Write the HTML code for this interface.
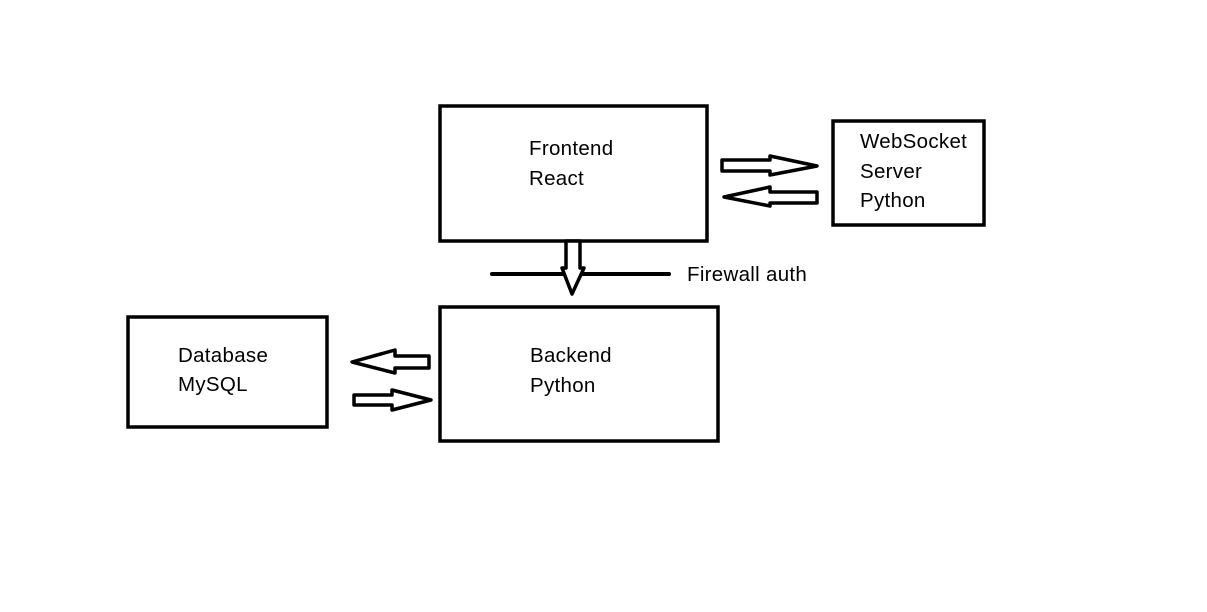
<!DOCTYPE html>
<html><head><style>
html,body{margin:0;padding:0;background:#fff;}
svg{display:block}
text{font-family:"Liberation Sans",sans-serif;font-size:20.5px;fill:#000;letter-spacing:0.3px}
</style></head><body>
<svg width="1207" height="612" viewBox="0 0 1207 612">
<g fill="none" stroke="#000" stroke-width="3.5">
<rect x="440" y="106" width="267" height="135"/>
<rect x="833" y="121" width="151" height="104"/>
<rect x="440" y="307" width="278" height="134"/>
<rect x="128" y="317" width="199" height="110"/>
</g>
<g fill="#fff" stroke="#000" stroke-width="3.5" stroke-linejoin="round">
<polygon points="722,160 770,160 770,156 817,166 770,175 770,171 722,171"/>
<polygon points="817,192 770,192 770,187 724,197 770,206 770,203 817,203"/>
<polygon points="429,356 395,356 395,350 352,362 395,373 395,368 429,368"/>
<polygon points="354,395 392,395 392,390 431,400 392,410 392,405 354,405"/>
</g>
<line x1="492" y1="274" x2="669" y2="274" stroke="#000" stroke-width="4" stroke-linecap="round"/>
<polygon points="566,241 580,241 580,268 584,268 572,294 562,268 566,268" fill="#fff" stroke="#000" stroke-width="3.5" stroke-linejoin="round"/>
<text x="529" y="155">Frontend</text>
<text x="529" y="185">React</text>
<text x="860" y="148">WebSocket</text>
<text x="860" y="178">Server</text>
<text x="860" y="207">Python</text>
<text x="530" y="362">Backend</text>
<text x="530" y="392">Python</text>
<text x="178" y="362">Database</text>
<text x="178" y="391">MySQL</text>
<text x="687" y="281">Firewall auth</text>
</svg>
</body></html>
